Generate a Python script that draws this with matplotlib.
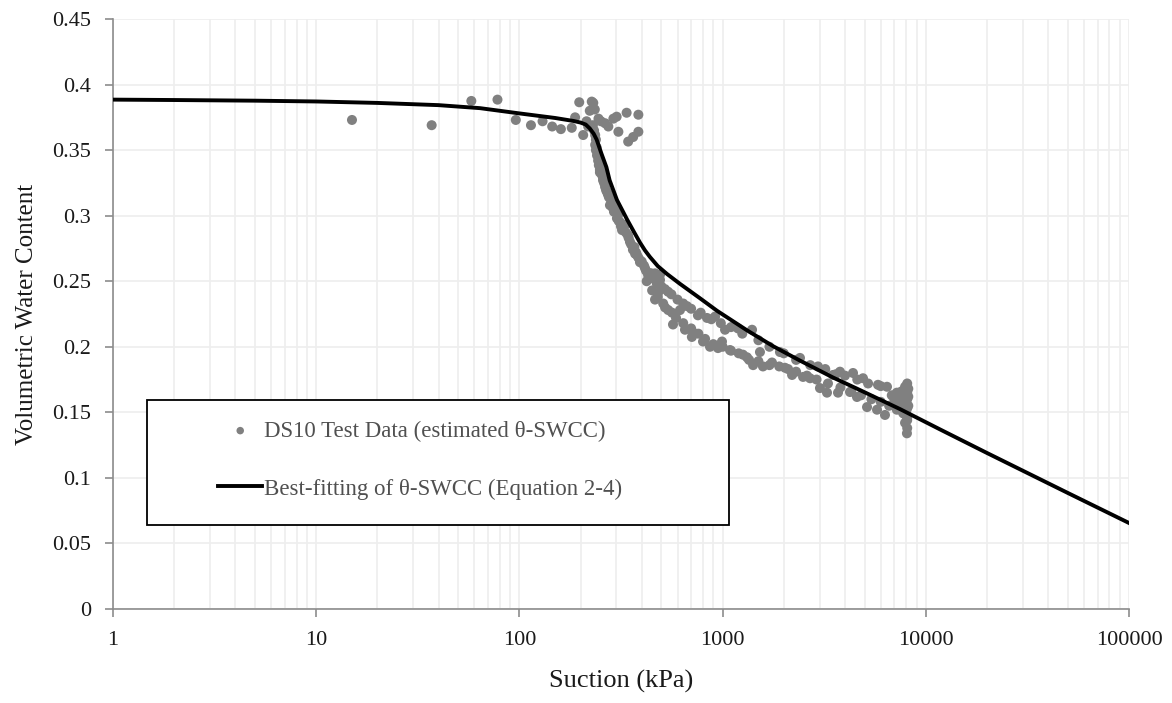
import matplotlib
matplotlib.use("Agg")
import matplotlib.pyplot as plt
from matplotlib.ticker import LogLocator, FixedLocator, NullFormatter, FuncFormatter
from matplotlib.patches import Rectangle

# ---- measured data (read from reference) ----
# early / plateau points
plateau_suction = [15, 37, 58, 78, 96, 114, 130, 145, 160, 181, 188, 197, 206, 214, 227,
                   231, 235, 245, 264, 274, 290, 301, 307, 337, 343, 363, 385, 385, 222, 252, 218]
plateau_theta = [0.373, 0.369, 0.3875, 0.3885, 0.373, 0.369, 0.372, 0.368, 0.366, 0.367, 0.375, 0.3865, 0.3615, 0.372, 0.387,
                 0.386, 0.381, 0.374, 0.3705, 0.368, 0.374, 0.3755, 0.364, 0.3785, 0.3565, 0.360, 0.377, 0.364, 0.380, 0.372, 0.368]
# steep drop
steep_suction = [230, 233, 236, 238, 236, 238, 241, 244, 246, 249, 255, 258, 249, 261,
                 267, 273, 286, 295, 279, 292, 306, 313, 331, 320, 342, 350, 362, 379,
                 392, 415, 430, 465, 492,
                 240, 243, 247, 250, 252, 256, 258, 262, 264, 270, 276, 283, 288, 298, 302,
                 308, 316, 325, 335, 345, 355, 368, 375, 385, 400, 410, 420, 445, 455, 475]
steep_theta = [0.369, 0.365, 0.3615, 0.358, 0.354, 0.350, 0.346, 0.342, 0.3385, 0.335, 0.331, 0.327, 0.333, 0.325,
               0.3195, 0.316, 0.312, 0.308, 0.308, 0.303, 0.3005, 0.295, 0.293, 0.289, 0.285, 0.280, 0.274, 0.270,
               0.2645, 0.260, 0.2547, 0.256, 0.251,
               0.352, 0.347, 0.343, 0.339, 0.336, 0.333, 0.329, 0.327, 0.322, 0.318, 0.314, 0.310, 0.306, 0.304, 0.298,
               0.296, 0.292, 0.290, 0.287, 0.283, 0.278, 0.276, 0.272, 0.268, 0.265, 0.262, 0.258, 0.256, 0.252, 0.248]
# upper band (500 - 8000 kPa)
upper_suction = [371, 392, 439, 423, 492, 481, 539, 617, 668, 756, 838, 918, 1028, 1190, 1396,
                 1527, 1915, 2403, 2946, 3493, 3781, 4383, 4908, 5818, 6442, 7905,
                 500, 520, 560, 600, 640, 700, 780, 880, 980, 1100, 1250, 1500, 1700, 2000,
                 2300, 2700, 3200, 3600, 4000, 4600, 5200, 6000]
upper_theta = [0.271, 0.266, 0.256, 0.250, 0.255, 0.241, 0.242, 0.228, 0.231, 0.224, 0.222, 0.223, 0.213, 0.214, 0.213,
               0.196, 0.196, 0.1915, 0.185, 0.1785, 0.181, 0.180, 0.176, 0.171, 0.1695, 0.1695,
               0.246, 0.244, 0.240, 0.236, 0.233, 0.229, 0.226, 0.221, 0.218, 0.215, 0.210, 0.205, 0.200, 0.195,
               0.190, 0.186, 0.183, 0.179, 0.178, 0.175, 0.172, 0.170]
# lower band (450 - 8200 kPa)
lower_suction = [465, 521, 564, 570, 653, 715, 706, 801, 867, 949, 993, 1087, 1318, 1259, 1413,
                 1580, 1750, 2028, 2197, 2489, 2693, 3014, 3264, 3698, 4236, 4585, 5138, 5754,
                 6296, 6898, 7464, 8075, 7905, 7727, 7640,
                 450, 480, 510, 540, 590, 640, 700, 760, 820, 900, 1000, 1100, 1200, 1350, 1500,
                 1700, 1900, 2100, 2300, 2600, 2900, 3300, 3800, 4300, 4800, 5400, 6000, 6600,
                 7200, 7800, 8100,
                 8100, 8100, 8100, 8100, 8100, 8100, 8200, 8200, 8200, 8000, 7800, 7600, 7300,
                 7200, 7000, 6800, 7500]
lower_theta = [0.236, 0.230, 0.226, 0.217, 0.213, 0.211, 0.2075, 0.204, 0.200, 0.199, 0.204, 0.1975, 0.192, 0.194, 0.186,
               0.185, 0.188, 0.184, 0.1785, 0.177, 0.176, 0.1685, 0.165, 0.165, 0.1655, 0.1617, 0.154, 0.152,
               0.148, 0.1555, 0.161, 0.134, 0.142, 0.1495, 0.157,
               0.243, 0.238, 0.233, 0.228, 0.222, 0.218, 0.214, 0.210, 0.206, 0.202, 0.200, 0.197, 0.195, 0.190, 0.189,
               0.186, 0.185, 0.183, 0.181, 0.178, 0.175, 0.172, 0.169, 0.166, 0.163, 0.160, 0.158, 0.155,
               0.152, 0.149, 0.144,
               0.138, 0.146, 0.153, 0.160, 0.165, 0.172, 0.155, 0.162, 0.168, 0.150, 0.162, 0.166, 0.158,
               0.165, 0.160, 0.163, 0.158]

fit_suction = [1, 2, 5, 10, 20, 40, 64, 100, 150, 185, 200, 212, 222, 232, 240, 253, 268, 278,
               302, 339, 365, 392, 415, 439, 480, 533, 617, 691, 774, 938, 1320, 1770, 2400,
               3500, 4740, 7460, 11740, 20000, 50000, 100000]
fit_theta = [0.3885, 0.3882, 0.3877, 0.3871, 0.386, 0.3843, 0.382, 0.378, 0.3745, 0.3722, 0.371, 0.3695, 0.3665, 0.3625, 0.358,
             0.3476, 0.337, 0.327, 0.312, 0.297, 0.288, 0.2795, 0.2735, 0.2685, 0.2615, 0.2555, 0.248, 0.2425,
             0.237, 0.2275, 0.2125, 0.2005, 0.1895, 0.1765, 0.167, 0.1525, 0.137, 0.119, 0.0885, 0.0656]

x_ticks = [1, 10, 100, 1000, 10000, 100000]
y_ticks = [0, 0.05, 0.1, 0.15, 0.2, 0.25, 0.3, 0.35, 0.4, 0.45]
y_tick_labels = ["0", "0.05", "0.1", "0.15", "0.2", "0.25", "0.3", "0.35", "0.4", "0.45"]

label_data = "DS10 Test Data (estimated \u03b8-SWCC)"
label_fit = "Best-fitting of \u03b8-SWCC (Equation 2-4)"

plt.rcParams['font.family'] = ['Liberation Serif', 'DejaVu Serif']

fig = plt.figure(figsize=(11.72, 7.03), dpi=100)
ax = fig.add_axes([113/1172, 94/703, 1016/1172, 590/703])

all_suction = plateau_suction + steep_suction + upper_suction + lower_suction
all_theta = plateau_theta + steep_theta + upper_theta + lower_theta
ax.scatter(all_suction, all_theta, s=52, color='#808080', edgecolors='none',
           zorder=3, label=label_data)
ax.plot(fit_suction, fit_theta, color='black', lw=2.8, zorder=4, label=label_fit,
        solid_joinstyle='round')

ax.set_xscale('log')
ax.set_xlim(1, 100000)
ax.set_ylim(0, 0.45)
ax.xaxis.set_major_locator(FixedLocator(x_ticks))
ax.xaxis.set_major_formatter(FuncFormatter(lambda v, p: f"{int(round(v))}"))
ax.xaxis.set_minor_locator(LogLocator(base=10, subs=range(2, 10)))
ax.xaxis.set_minor_formatter(NullFormatter())
ax.set_yticks(y_ticks)
ax.set_yticklabels(y_tick_labels)

ax.grid(True, which='major', color='#eeeeee', lw=1.2, zorder=0)
ax.grid(True, which='minor', axis='x', color='#eeeeee', lw=1.2, zorder=0)
ax.set_axisbelow(True)

for s in ['top', 'right']:
    ax.spines[s].set_visible(False)
for s in ['left', 'bottom']:
    ax.spines[s].set_color('#8c8c8c')
    ax.spines[s].set_linewidth(1.2)
ax.tick_params(which='major', direction='out', length=6, width=1.2, color='#8c8c8c',
               labelsize=16, labelcolor='#1a1a1a', pad=10)
ax.tick_params(which='minor', length=0)

ax.set_xlabel("Suction (kPa)", fontsize=19, color='#1a1a1a', labelpad=14)
ax.set_ylabel("Volumetric Water Content", fontsize=18, color='#1a1a1a', labelpad=10)

# legend box
rect = Rectangle(((147-113)/1016, (609-525)/590), (729-147)/1016, (525-400)/590,
                 transform=ax.transAxes, facecolor='white', edgecolor='black',
                 lw=1.3, zorder=5)
ax.add_patch(rect)
leg = ax.legend(loc='center left', bbox_to_anchor=((207-113)/1016, (609-460)/590),
                frameon=False, fontsize=16.5, labelspacing=1.6, handlelength=1.9,
                handletextpad=0.1, borderpad=0, markerscale=0.75)
leg.set_zorder(6)
for t in leg.get_texts():
    t.set_color('#505050')

fig.savefig("out.png", dpi=100)
